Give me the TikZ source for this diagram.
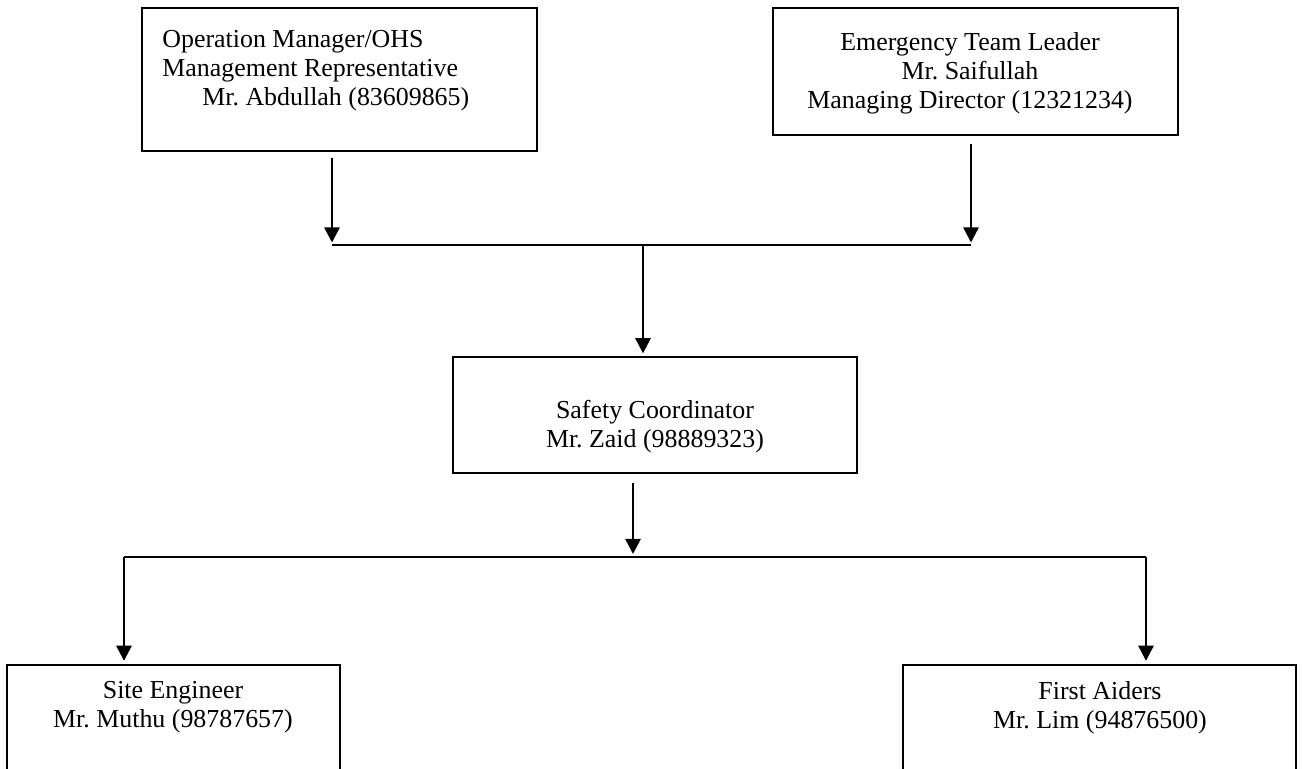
\documentclass[tikz,border=0pt]{standalone}
\usepackage{fontspec}
\setmainfont{Liberation Serif}
\usetikzlibrary{arrows.meta,positioning}
\newcommand{\px}{0.4633pt}
\frenchspacing
\tikzset{
	box/.style={draw=black, line width=1.1pt, rectangle, inner sep=0pt},
	txt/.style={inner sep=0pt, font=\fontsize{12}{13.3}\selectfont},
	arr/.style={line width=1.1pt, -{Triangle[length=7pt, width=7pt]}},
	link/.style={line width=1.1pt}
}
\begin{document}
\begin{tikzpicture}[x=0.4633pt, y=-0.4633pt]
	\useasboundingbox (0,0) rectangle (1302,769);
	\clip (0,0) rectangle (1302,769);
	% boxes
	\node[box, minimum width=395*\px, minimum height=143*\px] (opm) at (339.5,79.5) {};
	\node[box, minimum width=405*\px, minimum height=127*\px] (etl) at (975.5,71.5) {};
	\node[box, minimum width=404*\px, minimum height=116*\px] (sfc) at (655,415) {};
	\node[box, minimum width=333*\px, minimum height=135*\px] (sen) at (173.5,732.5) {};
	\node[box, minimum width=393*\px, minimum height=135*\px] (fad) at (1099.5,732.5) {};
	% texts (base = last line)
	\node[txt, align=left, anchor=base west] (opmtext) at (162,105) {Operation Manager/OHS\\Management Representative\\\hspace*{18.5pt}Mr. Abdullah (83609865)};
	\node[txt, align=center, anchor=base] (etltext) at (970,108) {Emergency Team Leader\\Mr. Saifullah\\Managing Director (12321234)};
	\node[txt, align=center, anchor=base] (sfctext) at (655,447) {Safety Coordinator\\Mr. Zaid (98889323)};
	\node[txt, align=center, anchor=base] (sentext) at (173,727) {Site Engineer\\Mr. Muthu (98787657)};
	\node[txt, align=center, anchor=base] (fadtext) at (1100,728) {First Aiders\\Mr. Lim (94876500)};
	% joints
	\coordinate (jl) at (332,245);
	\coordinate (jr) at (971,245);
	\coordinate (jm) at (643,245);
	\coordinate (kc) at (633,557);
	\coordinate (kl) at (124,557);
	\coordinate (kr) at (1146,557);
	% connectors
	\draw[arr, shorten <=6*\px, shorten >=2.5*\px] (opm.south -| jl) -- (jl);
	\draw[arr, shorten <=8*\px, shorten >=2.5*\px] (etl.south -| jr) -- (jr);
	\draw[link] (jl) -- (jr);
	\draw[arr, shorten >=2.5*\px] (jm) -- (sfc.north -| jm);
	\draw[arr, shorten <=9*\px, shorten >=3*\px] (sfc.south -| kc) -- (kc);
	\draw[link] (kl) -- (kr);
	\draw[arr, shorten >=3*\px] (kl) -- (sen.north -| kl);
	\draw[arr, shorten >=3*\px] (kr) -- (fad.north -| kr);
\end{tikzpicture}
\end{document}
